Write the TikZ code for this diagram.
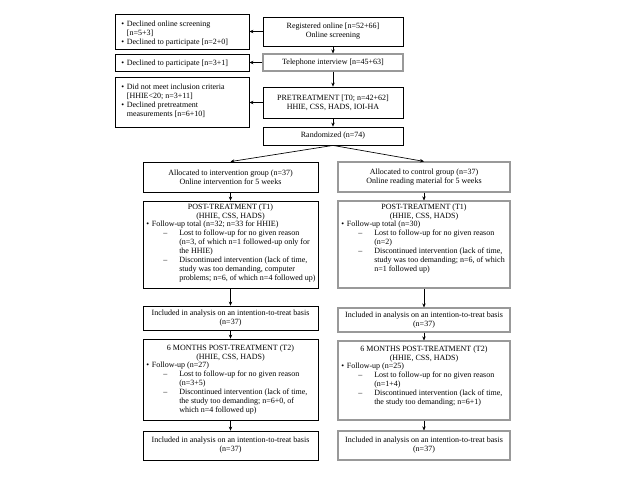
\documentclass[tikz,border=0pt]{standalone}
\usepackage{fontspec}
\setmainfont{Liberation Serif}
\usetikzlibrary{arrows.meta}

\newcommand{\fs}{\fontsize{6}{6.75}\selectfont}
\newcommand{\bitem}{\makebox[4.2pt][l]{\textbullet}}
\newcommand{\bcont}{\hspace*{4.2pt}}
\newcommand{\ditem}{\hspace*{12.75pt}\makebox[12pt][l]{--}}
\newcommand{\dcont}{\hspace*{24.75pt}}

\tikzset{
  box/.style 2 args={draw, line width=0.6pt, inner sep=0pt, align=center, font=\fs,
    minimum width=#1*0.75pt, minimum height=#2*0.75pt},
  gbox/.style 2 args={box={#1}{#2}, draw=black!40, line width=0.9pt},
  txt/.style={inner sep=0pt, align=left, anchor=north west, font=\fs, execute at begin node=\strut},
  head/.style={inner sep=0pt, align=center, anchor=north, font=\fs, execute at begin node=\strut},
  arr/.style={-{Stealth[length=3pt,width=2.6pt]}, line width=0.5pt},
}

\begin{document}
\begin{tikzpicture}[x=0.75pt,y=0.75pt,yscale=-1,xscale=1]
\useasboundingbox (0,0) rectangle (640,480);

% main column
\node[box={140}{29}] (reg) at (333,31.5) {Registered online [n=52+66]\\Online screening};
\node[gbox={140}{17}] (tel) at (333,62.5) {Telephone interview [n=45+63]};
\node[box={140}{31}] (pre) at (333,102.5) {PRETREATMENT [T0; n=42+62]\\HHIE, CSS, HADS, IOI-HA};
\node[box={140}{18}] (rand) at (333,136) {Randomized (n=74)};

% excluded
\node[box={134}{35}] (side1) at (182,31.5) {};
\node[box={134}{17}] (side2) at (182,62.5) {};
\node[box={134}{50}] (side3) at (182,102) {};
\node[txt] (side1t) at (121,20.2) {\bitem Declined online screening\\ \bcont[n=5+3]\\ \bitem Declined to participate [n=2+0]};
\node[txt] (side2t) at (121,58.7) {\bitem Declined to participate [n=3+1]};
\node[txt] (side3t) at (121,83.2) {\bitem Did not meet inclusion criteria\\ \bcont[HHIE<20; n=3+11]\\ \bitem Declined pretreatment\\ \bcont measurements [n=6+10]};

% intervention group
\node[box={175}{30}] (alloc1) at (230.5,177) {Allocated to intervention group (n=37)\\Online intervention for 5 weeks};
\node[box={175}{87}] (post1) at (230.5,244.5) {};
\node[head] (post1h) at (230.5,203.4) {POST-TREATMENT (T1)\\(HHIE, CSS, HADS)};
\node[txt] (post1t) at (146,220.4) {\bitem Follow-up total (n=32; n=33 for HHIE)\\
  \ditem Lost to follow-up for no given reason\\
  \dcont (n=3, of which n=1 followed-up only for\\
  \dcont the HHIE)\\
  \ditem Discontinued intervention (lack of time,\\
  \dcont study was too demanding, computer\\
  \dcont problems; n=6, of which n=4 followed up)};
\node[box={175}{24}] (inc1) at (230.5,318) {Included in analysis on an intention-to-treat basis\\(n=37)};
\node[box={175}{81}] (six1) at (230.5,379.5) {};
\node[head] (six1h) at (230.5,344.4) {6 MONTHS POST-TREATMENT (T2)\\(HHIE, CSS, HADS)};
\node[txt] (six1t) at (146,361.4) {\bitem Follow-up (n=27)\\
  \ditem Lost to follow-up for no given reason\\
  \dcont (n=3+5)\\
  \ditem Discontinued intervention (lack of time,\\
  \dcont the study too demanding; n=6+0, of\\
  \dcont which n=4 followed up)};
\node[box={175}{29}] (fin1) at (230.5,445.5) {Included in analysis on an intention-to-treat basis\\(n=37)};

% control group
\node[gbox={172}{30}] (alloc2) at (424,177) {Allocated to control group (n=37)\\Online reading material for 5 weeks};
\node[gbox={172}{87}] (post2) at (424,244.5) {};
\node[head] (post2h) at (424,203.4) {POST-TREATMENT (T1)\\(HHIE, CSS, HADS)};
\node[txt] (post2t) at (341,220.4) {\bitem Follow-up total (n=30)\\
  \ditem Lost to follow-up for no given reason\\
  \dcont (n=2)\\
  \ditem Discontinued intervention (lack of time,\\
  \dcont study was too demanding; n=6, of which\\
  \dcont n=1 followed up)};
\node[gbox={172}{24}] (inc2) at (424,320) {Included in analysis on an intention-to-treat basis\\(n=37)};
\node[gbox={172}{79}] (six2) at (424,380.5) {};
\node[head] (six2h) at (424,345.4) {6 MONTHS POST-TREATMENT (T2)\\(HHIE, CSS, HADS)};
\node[txt] (six2t) at (341,362.4) {\bitem Follow-up (n=25)\\
  \ditem Lost to follow-up for no given reason\\
  \dcont (n=1+4)\\
  \ditem Discontinued intervention (lack of time,\\
  \dcont the study too demanding; n=6+1)};
\node[gbox={172}{29}] (fin2) at (424,445.5) {Included in analysis on an intention-to-treat basis\\(n=37)};

% arrows
\draw[arr] (reg.west) -- (side1.east);
\draw[arr] (tel.west) -- (side2.east);
\draw[arr] (pre.west) -- (pre.west -| side3.east);
\draw[arr] (reg.south) -- (tel.north);
\draw[arr] (tel.south) -- (pre.north);
\draw[arr] (pre.south) -- (rand.north);
\draw[arr] (rand.south) -- (alloc1.north);
\draw[arr] (rand.south) -- (alloc2.north);
\draw[arr] (alloc1.south) -- (post1.north);
\draw[arr] (post1.south) -- (inc1.north);
\draw[arr] (inc1.south) -- (six1.north);
\draw[arr] (six1.south) -- (fin1.north);
\draw[arr] (alloc2.south) -- (post2.north);
\draw[arr] (post2.south) -- (inc2.north);
\draw[arr] (inc2.south) -- (six2.north);
\draw[arr] (six2.south) -- (fin2.north);

\end{tikzpicture}
\end{document}
